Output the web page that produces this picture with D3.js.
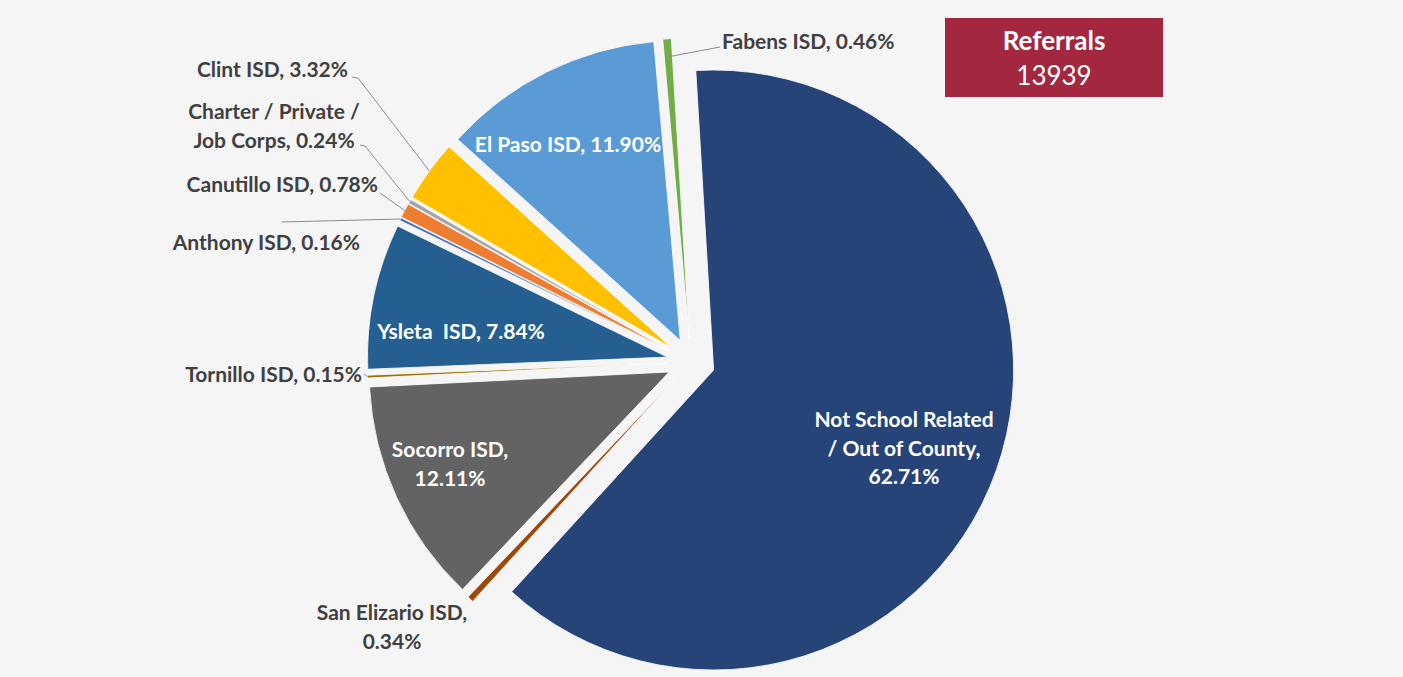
<!DOCTYPE html>
<html>
<head>
<meta charset="utf-8">
<script src="https://cdn.jsdelivr.net/npm/d3@7"></script>
<style>
  html, body { margin: 0; padding: 0; background: #f5f5f5; }
  svg { display: block; }
  text { font-family: Lato, "Open Sans", sans-serif; font-weight: 700; }
</style>
</head>
<body>
<svg id="chart" width="1403" height="677"></svg>
<script>
// ---- data (alphabetical order, as in source) ----
const categories = ["Anthony ISD", "Canutillo ISD", "Charter / Private / Job Corps", "Clint ISD",
  "El Paso ISD", "Fabens ISD", "Not School Related / Out of County", "San Elizario ISD",
  "Socorro ISD", "Tornillo ISD", "Ysleta ISD"];
const percents = [0.16, 0.78, 0.24, 3.32, 11.90, 0.46, 62.71, 0.34, 12.11, 0.15, 7.84];
const colors = ["#4472C4", "#ED7D31", "#A5A5A5", "#FFC000", "#5B9BD5", "#70AD47",
  "#264478", "#9E480E", "#636363", "#997300", "#255E91"];
const labelLines = [
  ["Anthony ISD, 0.16%"], ["Canutillo ISD, 0.78%"], ["Charter / Private /", "Job Corps, 0.24%"],
  ["Clint ISD, 3.32%"], ["El Paso ISD, 11.90%"], ["Fabens ISD, 0.46%"],
  ["Not School Related", "/ Out of County,", "62.71%"], ["San Elizario ISD,", "0.34%"],
  ["Socorro ISD,", "12.11%"], ["Tornillo ISD, 0.15%"], ["Ysleta  ISD, 7.84%"]];
const totalReferrals = 13939;
const boxTitle = "Referrals";

// ---- layout (not data) ----
const W = 1403, H = 677;
const cx = 691, cy = 362, R = 300, explode = 24;
const startDeg = -64.1;
// label placements: [x, firstBaseline, anchor, inside?]
const labelPos = [
  [360, 250, "end", false],
  [378, 192, "end", false],
  [274, 119, "middle", false],
  [348, 77, "end", false],
  [568, 152, "middle", true],
  [722, 49, "start", false],
  [904, 427, "middle", true],
  [392, 620, "middle", false],
  [450, 457, "middle", true],
  [362, 382, "end", false],
  [461, 339, "middle", true]
];
// leader lines: label-side points, then slice radius where the line meets the slice
const leaders = [
  {i: 0, pts: [[282, 222]], r: 300},
  {i: 1, pts: [[380, 193]], r: 300},
  {i: 2, pts: [[360, 145], [365, 146]], r: 300},
  {i: 3, pts: [[352, 77], [358, 78]], r: 300},
  {i: 5, pts: [[720, 47]], r: 282},
  {i: 9, pts: [[364, 374]], r: 300}
];

const svg = d3.select("#chart");
svg.append("rect").attr("width", W).attr("height", H).attr("fill", "#f5f5f5");

const pie = d3.pie().sort(null).value(d => d)
  .startAngle(startDeg * Math.PI / 180)
  .endAngle(startDeg * Math.PI / 180 + 2 * Math.PI);
const arcs = pie(percents);
const arc = d3.arc().innerRadius(0).outerRadius(R);

function offset(a) {
  const m = (a.startAngle + a.endAngle) / 2;
  return [explode * Math.sin(m), -explode * Math.cos(m)];
}

const g = svg.append("g").attr("transform", `translate(${cx},${cy})`);
g.selectAll("path.slice").data(arcs).join("path")
  .attr("class", "slice")
  .attr("transform", d => { const o = offset(d); return `translate(${o[0]},${o[1]})`; })
  .attr("d", arc)
  .attr("fill", (d, i) => colors[i])
  .attr("stroke", "#ffffff")
  .attr("stroke-width", 0.8)
  .attr("stroke-linejoin", "round");

// leader lines
leaders.forEach(L => {
  const a = arcs[L.i];
  const m = (a.startAngle + a.endAngle) / 2;
  const o = offset(a);
  const end = [cx + o[0] + L.r * Math.sin(m), cy + o[1] - L.r * Math.cos(m)];
  const pts = L.pts.concat([end]);
  svg.append("path")
    .attr("d", d3.line()(pts))
    .attr("fill", "none")
    .attr("stroke", "#8c8c8c")
    .attr("stroke-width", 1);
});

// labels
const lineH = 28.5;
labelLines.forEach((lines, i) => {
  const [x, y, anchor, inside] = labelPos[i];
  const t = svg.append("text")
    .attr("x", x).attr("y", y)
    .attr("text-anchor", anchor)
    .attr("font-size", 21)
    .attr("fill", inside ? "#ffffff" : "#404040")
    .style("white-space", "pre");
  lines.forEach((ln, k) => {
    t.append("tspan").attr("x", x).attr("y", y + k * lineH).text(ln);
  });
});

// Referrals box
svg.append("rect").attr("x", 945).attr("y", 18).attr("width", 218).attr("height", 79)
  .attr("fill", "#A3283F");
svg.append("text").attr("x", 1054).attr("y", 50).attr("text-anchor", "middle")
  .attr("font-size", 26).attr("fill", "#ffffff").text(boxTitle);
svg.append("text").attr("x", 1054).attr("y", 85).attr("text-anchor", "middle")
  .attr("font-size", 26).attr("fill", "#ffffff").style("font-weight", 400)
  .text(String(totalReferrals));
</script>
</body>
</html>
